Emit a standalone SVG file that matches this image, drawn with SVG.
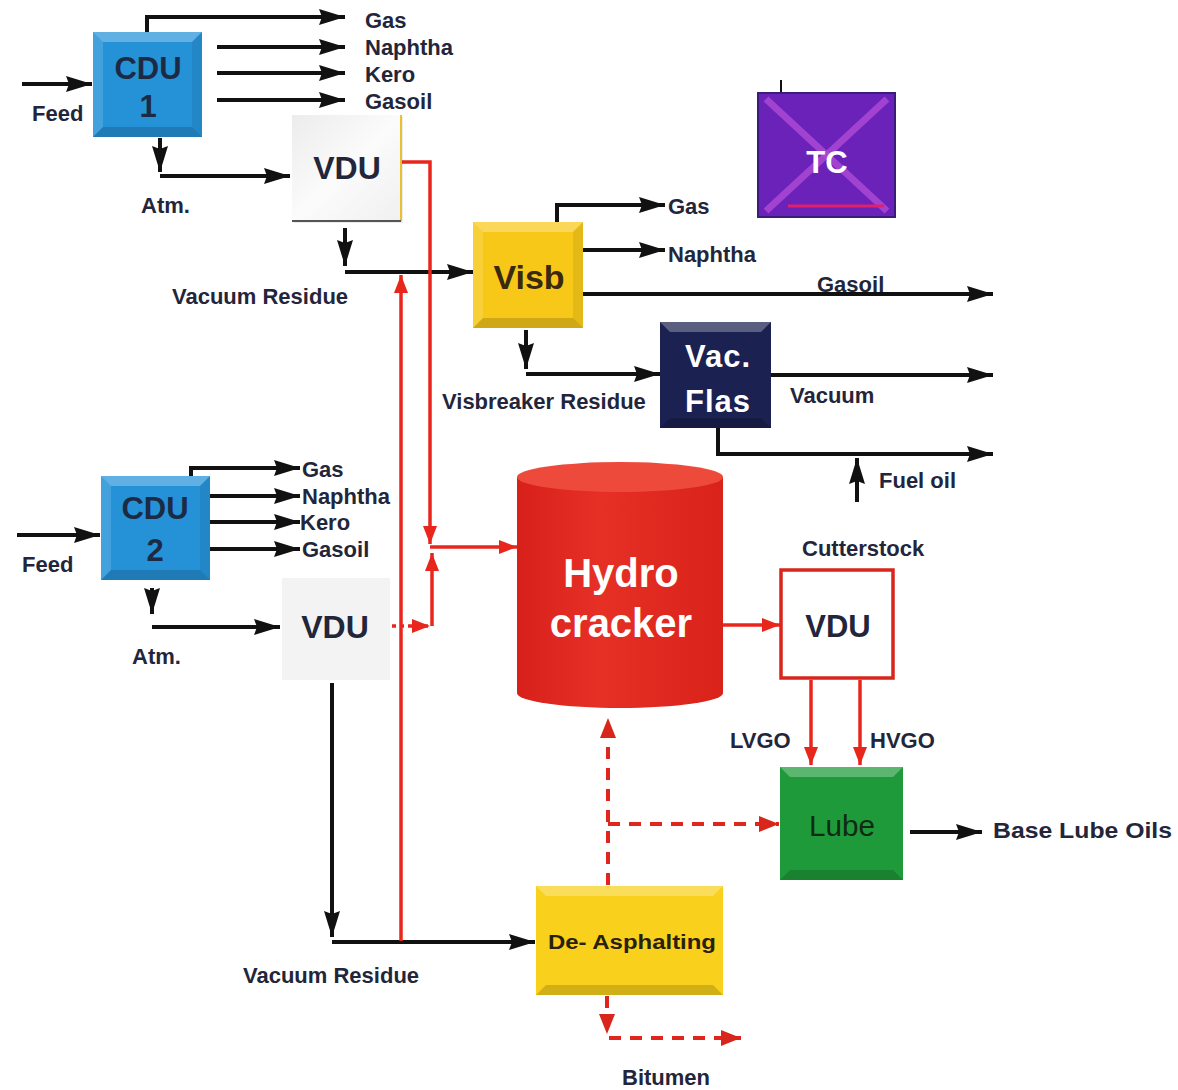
<svg xmlns="http://www.w3.org/2000/svg" width="1178" height="1090" viewBox="0 0 1178 1090">
<defs>
<style>
.lbl{font-family:"Liberation Sans",Arial,sans-serif;font-weight:bold;font-size:22px;fill:#23263a}
.big{font-family:"Liberation Sans",Arial,sans-serif;font-weight:bold;text-anchor:middle}
.blk{fill:none;stroke:#111;stroke-width:4}
.red{fill:none;stroke:#e8261c;stroke-width:3.5}
.dash{fill:none;stroke:#e0261c;stroke-width:4;stroke-dasharray:12 9}
.hl{fill:#fff;opacity:.28}
.hl2{fill:#fff;opacity:.14}
.sh{fill:#000;opacity:.16}
.sh2{fill:#000;opacity:.08}
</style>
<marker id="ab" viewBox="0 0 26 16" refX="26" refY="8" markerWidth="26" markerHeight="16" markerUnits="userSpaceOnUse" orient="auto"><path d="M0,0 L26,8 L0,16 L3,8 z" fill="#111"/></marker>
<marker id="ar" viewBox="0 0 18 14" refX="18" refY="7" markerWidth="18" markerHeight="14" markerUnits="userSpaceOnUse" orient="auto"><path d="M0,0 L18,7 L0,14 z" fill="#e8261c"/></marker>
<marker id="ad" viewBox="0 0 20 16" refX="20" refY="8" markerWidth="20" markerHeight="16" markerUnits="userSpaceOnUse" orient="auto"><path d="M0,0 L20,8 L0,16 z" fill="#d8261c"/></marker>
<linearGradient id="vdu" x1="0" y1="0" x2="1" y2="1"><stop offset="0" stop-color="#ececec"/><stop offset="0.5" stop-color="#fbfbfb"/><stop offset="1" stop-color="#f0f0f0"/></linearGradient>
<linearGradient id="cyl" x1="0" y1="0" x2="1" y2="0"><stop offset="0" stop-color="#d8201a"/><stop offset="0.4" stop-color="#e63026"/><stop offset="1" stop-color="#d92219"/></linearGradient>
</defs>

<g id="connectors">
<path class="blk" d="M147,32 V17 H345" marker-end="url(#ab)"/>
<path class="blk" d="M217,47 H345" marker-end="url(#ab)"/>
<path class="blk" d="M217,73 H345" marker-end="url(#ab)"/>
<path class="blk" d="M217,100 H345" marker-end="url(#ab)"/>
<path class="blk" d="M22,84 H92" marker-end="url(#ab)"/>
<path class="blk" d="M160,138 V172" marker-end="url(#ab)"/>
<path class="blk" d="M160,176 H290" marker-end="url(#ab)"/>
<path class="blk" d="M345,228 V266" marker-end="url(#ab)"/>
<path class="blk" d="M345,272 H473" marker-end="url(#ab)"/>
<path class="blk" d="M557,222 V205 H665" marker-end="url(#ab)"/>
<path class="blk" d="M583,250 H665" marker-end="url(#ab)"/>
<path class="blk" d="M583,294 H993" marker-end="url(#ab)"/>
<path class="blk" d="M526,330 V369" marker-end="url(#ab)"/>
<path class="blk" d="M526,374 H660" marker-end="url(#ab)"/>
<path class="blk" d="M771,375 H993" marker-end="url(#ab)"/>
<path class="blk" d="M718,428 V454 H993" marker-end="url(#ab)"/>
<path class="blk" d="M857,502 V458" marker-end="url(#ab)"/>
<path class="blk" d="M191,476 V468 H300" marker-end="url(#ab)"/>
<path class="blk" d="M210,496 H300" marker-end="url(#ab)"/>
<path class="blk" d="M210,522 H300" marker-end="url(#ab)"/>
<path class="blk" d="M210,549 H300" marker-end="url(#ab)"/>
<path class="blk" d="M17,535 H100" marker-end="url(#ab)"/>
<path class="blk" d="M152,588 V614" marker-end="url(#ab)"/>
<path class="blk" d="M152,627 H280" marker-end="url(#ab)"/>
<path class="blk" d="M332,683 V937" marker-end="url(#ab)"/>
<path class="blk" d="M332,942 H535" marker-end="url(#ab)"/>
<path class="blk" d="M910,832 H982" marker-end="url(#ab)"/>
<path class="red" d="M401,162 H430 V544" marker-end="url(#ar)"/>
<path class="red" d="M430,547 H517" marker-end="url(#ar)"/>
<path class="red" d="M392,626 H430" stroke-dasharray="4 4" marker-end="url(#ar)"/>
<path class="red" d="M432,626 V553" marker-end="url(#ar)"/>
<path class="red" d="M401,941 V275" marker-end="url(#ar)"/>
<path class="red" d="M722,625 H780" marker-end="url(#ar)"/>
<path class="red" d="M811,680 V765" marker-end="url(#ar)"/>
<path class="red" d="M860,680 V765" marker-end="url(#ar)"/>
<path class="dash" d="M608,885 V718" marker-end="url(#ad)"/>
<path class="dash" d="M608,824 H779" marker-end="url(#ad)"/>
<path class="dash" d="M607,996 V1034" marker-end="url(#ad)"/>
<path class="dash" d="M609,1038 H741" marker-end="url(#ad)"/>
</g>

<g id="cdu1">
<rect x="93" y="32" width="109" height="105" fill="#2592d8"/>
<polygon class="hl" points="93,32 202,32 192,42 103,42"/>
<polygon class="hl2" points="93,32 103,42 103,127 93,137"/>
<polygon class="sh" points="93,137 103,127 192,127 202,137"/>
<polygon class="sh2" points="202,32 202,137 192,127 192,42"/>
<text class="big" x="148" y="79" font-size="31" fill="#1c2a44">CDU</text>
<text class="big" x="148" y="117" font-size="31" fill="#1c2a44">1</text>
</g>

<g id="vdu1">
<rect x="294" y="117" width="109" height="106" fill="#000" opacity="0.08"/>
<rect x="292" y="115" width="109" height="106" fill="url(#vdu)"/>
<line x1="401" y1="115" x2="401" y2="221" stroke="#e8c030" stroke-width="2"/>
<line x1="292" y1="221" x2="401" y2="221" stroke="#555" stroke-width="2"/>
<text class="big" x="347" y="179" font-size="32" fill="#23263a">VDU</text>
</g>

<g id="visb">
<rect x="473" y="222" width="110" height="106" fill="#f8c818"/>
<polygon class="hl" points="473,222 583,222 573,232 483,232"/>
<polygon class="hl2" points="473,222 483,232 483,318 473,328"/>
<polygon class="sh" points="473,328 483,318 573,318 583,328"/>
<polygon class="sh2" points="583,222 583,328 573,318 573,232"/>
<text class="big" x="529" y="289" font-size="34" fill="#3a2810">Visb</text>
</g>

<g id="tc">
<line x1="781" y1="80" x2="781" y2="97" stroke="#111" stroke-width="2"/>
<rect x="758" y="93" width="137" height="124" fill="#6a22b8" stroke="#3a1c7a" stroke-width="2"/>
<line x1="766" y1="99" x2="887" y2="211" stroke="#b04ad6" stroke-width="7" opacity="0.8"/>
<line x1="887" y1="99" x2="766" y2="211" stroke="#b04ad6" stroke-width="7" opacity="0.8"/>
<line x1="788" y1="206" x2="884" y2="206" stroke="#e0206a" stroke-width="3"/>
<text class="big" x="827" y="173" font-size="31" fill="#fff">TC</text>
</g>

<g id="vacflas">
<rect x="660" y="322" width="111" height="106" fill="#1b2150"/>
<polygon class="hl" points="660,322 771,322 761,332 670,332" opacity="0.2"/>
<polygon class="sh" points="660,428 670,418 761,418 771,428"/>
<text class="big" x="718" y="367" font-size="31" fill="#fff" letter-spacing="1">Vac.</text>
<text class="big" x="718" y="412" font-size="31" fill="#fff" letter-spacing="1">Flas</text>
</g>

<g id="cdu2">
<rect x="101" y="476" width="109" height="104" fill="#2592d8"/>
<polygon class="hl" points="101,476 210,476 200,486 111,486"/>
<polygon class="hl2" points="101,476 111,486 111,570 101,580"/>
<polygon class="sh" points="101,580 111,570 200,570 210,580"/>
<polygon class="sh2" points="210,476 210,580 200,570 200,486"/>
<text class="big" x="155" y="519" font-size="31" fill="#1c2a44">CDU</text>
<text class="big" x="155" y="561" font-size="31" fill="#1c2a44">2</text>
</g>

<g id="vdu2">
<rect x="282" y="578" width="108" height="102" fill="#f3f3f3"/>
<text class="big" x="335" y="638" font-size="32" fill="#23263a">VDU</text>
</g>

<g id="hydrocracker">
<path d="M517,477 V693 A103,15 0 0 0 723,693 V477 Z" fill="url(#cyl)"/>
<ellipse cx="620" cy="477" rx="103" ry="15" fill="#ee4a3c"/>
<text class="big" x="621" y="587" font-size="40" fill="#fff">Hydro</text>
<text class="big" x="621" y="637" font-size="40" fill="#fff">cracker</text>
</g>

<g id="vdu3">
<rect x="781" y="570" width="112" height="108" fill="#fff" stroke="#d8261c" stroke-width="3.5"/>
<text class="big" x="838" y="637" font-size="31" fill="#23263a">VDU</text>
</g>

<g id="lube">
<rect x="780" y="767" width="123" height="113" fill="#1f9a3a"/>
<polygon class="hl" points="780,767 903,767 893,777 790,777" opacity="0.2"/>
<polygon class="sh" points="780,880 790,870 893,870 903,880"/>
<text x="842" y="836" font-family="Liberation Sans, Arial, sans-serif" font-size="30" text-anchor="middle" fill="#102a14" textLength="66" lengthAdjust="spacingAndGlyphs">Lube</text>
</g>

<g id="deasphalting">
<rect x="536" y="886" width="187" height="109" fill="#f9d11c"/>
<polygon class="hl" points="536,886 723,886 713,896 546,896"/>
<polygon class="sh" points="536,995 546,985 713,985 723,995" opacity="0.1"/>
<text class="big" x="632" y="949" font-size="20" fill="#2a2010" textLength="168" lengthAdjust="spacingAndGlyphs">De- Asphalting</text>
</g>

<g id="labels">
<text class="lbl" x="365" y="28">Gas</text>
<text class="lbl" x="365" y="55">Naphtha</text>
<text class="lbl" x="365" y="82">Kero</text>
<text class="lbl" x="365" y="109">Gasoil</text>
<text class="lbl" x="32" y="121">Feed</text>
<text class="lbl" x="141" y="213">Atm.</text>
<text class="lbl" x="172" y="304">Vacuum Residue</text>
<text class="lbl" x="668" y="214">Gas</text>
<text class="lbl" x="668" y="262">Naphtha</text>
<text class="lbl" x="817" y="292">Gasoil</text>
<text class="lbl" x="442" y="409">Visbreaker Residue</text>
<text class="lbl" x="790" y="403">Vacuum</text>
<text class="lbl" x="879" y="488">Fuel oil</text>
<text class="lbl" x="302" y="477">Gas</text>
<text class="lbl" x="302" y="504">Naphtha</text>
<text class="lbl" x="300" y="530">Kero</text>
<text class="lbl" x="302" y="557">Gasoil</text>
<text class="lbl" x="22" y="572">Feed</text>
<text class="lbl" x="132" y="664">Atm.</text>
<text class="lbl" x="802" y="556" font-size="20">Cutterstock</text>
<text class="lbl" x="730" y="748">LVGO</text>
<text class="lbl" x="870" y="748">HVGO</text>
<text class="lbl" x="993" y="838" font-size="26" textLength="179" lengthAdjust="spacingAndGlyphs">Base Lube Oils</text>
<text class="lbl" x="243" y="983">Vacuum Residue</text>
<text class="lbl" x="622" y="1085">Bitumen</text>
</g>
</svg>
